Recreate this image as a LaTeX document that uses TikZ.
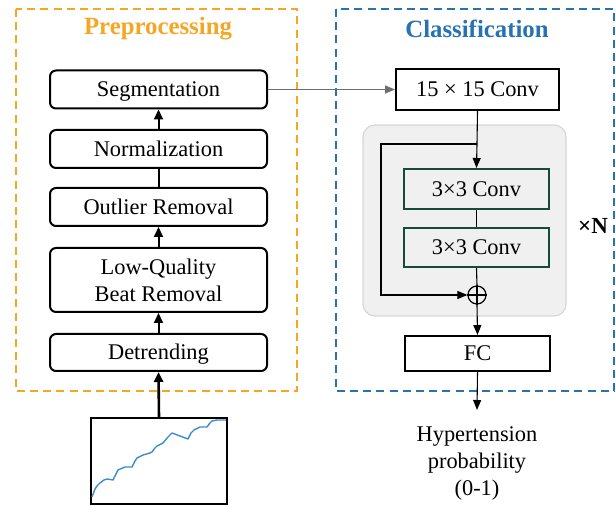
\documentclass[tikz,border=0pt]{standalone}
\usepackage{fontspec}
\setmainfont{Liberation Serif}
\usetikzlibrary{arrows.meta}
\definecolor{preorange}{RGB}{245,166,35}
\definecolor{clsblue}{RGB}{40,114,178}
\definecolor{convgreen}{RGB}{20,75,58}
\definecolor{blockfill}{RGB}{240,240,240}
\definecolor{blockedge}{RGB}{215,215,215}
\definecolor{sigblue}{RGB}{60,140,205}
\definecolor{linkgray}{RGB}{110,110,110}
\begin{document}
\begin{tikzpicture}[x=0.5pt,y=-0.5pt,
  every node/.style={font=\fontsize{11.2}{13.5}\selectfont},
  onetext/.style={text height=7.4pt, text depth=0pt},
  prebase/.style={draw, line width=1pt, rounded corners=3pt, minimum width=108.5pt, minimum height=19pt, inner sep=0pt, align=center},
  prebox/.style={prebase, onetext},
  clsbox/.style={draw, line width=1pt, minimum width=72.5pt, minimum height=20pt, inner sep=0pt, onetext},
  convbox/.style={draw=convgreen, line width=1pt, fill=blockfill, minimum width=72.5pt, minimum height=20pt, inner sep=0pt, onetext},
  frame/.style={dashed, dash pattern=on 4pt off 2.6pt, line width=1pt},
  title/.style={font=\fontsize{12.4}{14}\selectfont\bfseries},
  thickarrow/.style={line width=1pt, -{Triangle[length=5pt,width=4.5pt]}},
  thinarrow/.style={line width=0.55pt, -{Triangle[length=5pt,width=4pt]}},
  thinline/.style={line width=0.55pt}
]
\useasboundingbox (0,0) rectangle (616,506);

% frames
\draw[frame, draw=preorange] (16,9) rectangle (297,391);
\draw[frame, draw=clsblue] (336,9) rectangle (614,391);
\node[title, text=preorange] (pretitle) at (158,29) {Preprocessing};
\node[title, text=clsblue] (clstitle) at (477,29) {Classification};

% preprocessing chain
\node[prebox] (seg) at (158.5,89.5) {Segmentation};
\node[prebox] (norm) at (158.5,149) {Normalization};
\node[prebox] (outl) at (158.5,207) {Outlier Removal};
\node[prebase, minimum height=32pt] (lq) at (158.5,280) {Low-Quality\\Beat Removal};
\node[prebox, minimum height=18.5pt] (det) at (158.5,352.5) {Detrending};

\draw[thickarrow] (det.north) -- (lq.south);
\draw[thickarrow] (lq.north) -- (outl.south);
\draw[line width=1pt] (outl.north) -- (norm.south);
\draw[thickarrow] (norm.north) -- (seg.south);

% signal
\node[draw, line width=0.8pt, minimum width=68pt, minimum height=43pt, inner sep=0pt] (sig) at (159,461) {};
\draw[sigblue, line width=0.7pt, line join=round]
  (92,497) -- (95,489) -- (97,486) -- (100,483) -- (104,480) -- (107,479) -- (113,480)
  -- (116,474) -- (118,470) -- (125,467) -- (132,467) -- (135,461) -- (137,458)
  -- (143,455) -- (150,453) -- (152,452) -- (155,448) -- (157,446) -- (163,443)
  -- (168,437) -- (172,433) -- (180,436) -- (188,439) -- (191,433) -- (194,430)
  -- (200,427) -- (207,427) -- (210,423) -- (212,421) -- (217,420) -- (226,420);
\draw[line width=1.3pt, -{Triangle[length=5pt,width=4.5pt]}] (sig.north) -- (det.south);

% classification
\node[draw, line width=1pt, minimum width=81.5pt, minimum height=20.5pt, inner sep=0pt, onetext] (conv15) at (477.5,89.5) {15 × 15 Conv};
\draw[linkgray, line width=0.7pt, -{Triangle[length=5pt,width=4pt]}] (seg.east) -- (conv15.west);

\node[draw=blockedge, fill=blockfill, line width=0.6pt, rounded corners=6pt, minimum width=101.5pt, minimum height=95.5pt, inner sep=0pt] (block) at (464.5,220.5) {};

\node[convbox] (c1) at (476.5,189) {3×3 Conv};
\node[convbox, minimum height=19.5pt] (c2) at (476.5,247.5) {3×3 Conv};
\node[draw, circle, line width=0.6pt, minimum size=9pt, inner sep=0pt] (plus) at (477,295) {};
\draw[thinline] (plus.north) -- (plus.south) (plus.west) -- (plus.east);
\node[clsbox, minimum height=17.5pt] (fc) at (477.5,353.5) {FC};

\coordinate (split) at (477,144);
\coordinate (skipA) at (381,144);
\coordinate (skipB) at (381,295);
\coordinate (outend) at (477,410);

\draw[thinline] (conv15.south) -- (split);
\draw[thinarrow] (split) -- (c1.north);
\draw[thinarrow] (split) -- (skipA) -- (skipB) -- (plus.west);
\draw[thinline] (c1.south) -- (c2.north);
\draw[thinline] (c2.south) -- (plus.north);
\draw[thinarrow] (plus.south) -- (fc.north);
\draw[thinarrow] (fc.south) -- (outend);

\node[align=center, anchor=north] (out) at (477,420) {Hypertension\\probability\\(0-1)};
\node[font=\fontsize{11.5}{13}\selectfont\bfseries] (xn) at (593,226) {×N};
\end{tikzpicture}
\end{document}
